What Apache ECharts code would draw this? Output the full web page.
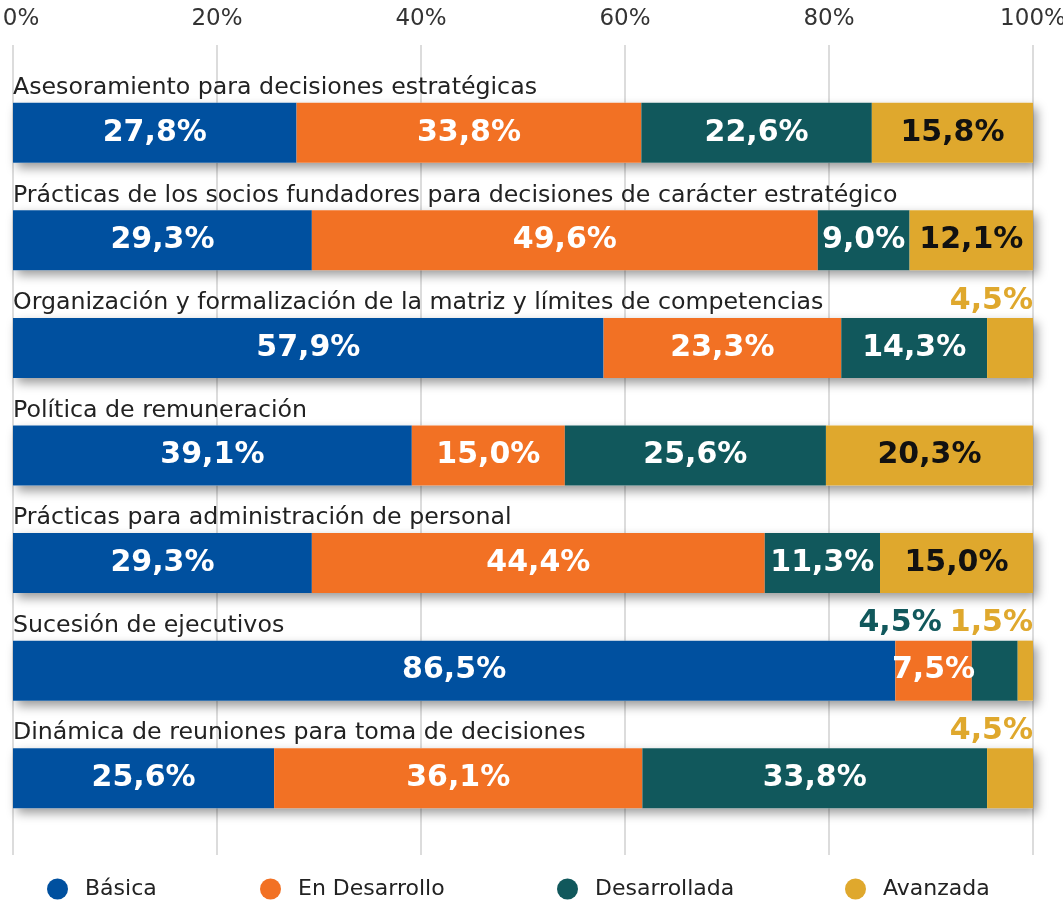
<!DOCTYPE html>
<html>
<head>
<meta charset="utf-8">
<script src="https://cdn.jsdelivr.net/npm/echarts@6/dist/echarts.min.js"></script>
<style>
  html, body { margin: 0; padding: 0; background: #fff; }
  #chart { width: 1063px; height: 905px; }
</style>
</head>
<body>
<div id="chart"></div>
<script>
// datos
var categorias = [
  'Asesoramiento para decisiones estratégicas',
  'Prácticas de los socios fundadores para decisiones de carácter estratégico',
  'Organización y formalización de la matriz y límites de competencias',
  'Política de remuneración',
  'Prácticas para administración de personal',
  'Sucesión de ejecutivos',
  'Dinámica de reuniones para toma de decisiones'
];
var basica = [27.8, 29.3, 57.9, 39.1, 29.3, 86.5, 25.6];
var enDesarrollo = [33.8, 49.6, 23.3, 15.0, 44.4, 7.5, 36.1];
var desarrollada = [22.6, 9.0, 14.3, 25.6, 11.3, 4.5, 33.8];
var avanzada = [15.8, 12.1, 4.5, 20.3, 15.0, 1.5, 4.5];
var total = [100, 100, 100, 100, 100, 100, 100];
var xTicks = [0, 20, 40, 60, 80, 100];

var nombres = ['Básica', 'En Desarrollo', 'Desarrollada', 'Avanzada'];
var colores = ['#00509f', '#f27124', '#11585c', '#dfa82d'];
var colorTextoDentro = ['#fff', '#fff', '#fff', '#111'];
var valores = [basica, enDesarrollo, desarrollada, avanzada];

var fuente = 'DejaVu Sans';
var fmt = function (v) { return v.toFixed(1).replace('.', ',') + '%'; };

function buildSeries(idx) {
  var data = valores[idx].map(function (v, row) {
    var item = { value: v };
    if (v < 5) {
      // etiqueta por encima de la barra
      var sigPequeno = idx < 3 && valores[idx + 1][row] < 5;
      item.label = {
        position: ['100%', -2],
        align: 'right',
        verticalAlign: 'bottom',
        color: colores[idx],
        offset: [sigPequeno ? -76 : 0, 0]
      };
    }
    return item;
  });
  return {
    name: nombres[idx],
    type: 'bar',
    stack: 'total',
    barWidth: 60,
    data: data,
    itemStyle: { color: colores[idx] },
    label: {
      show: true,
      position: 'inside',
      color: colorTextoDentro[idx],
      fontFamily: fuente,
      fontWeight: 'bold',
      fontSize: 30,
      formatter: function (p) { return fmt(p.value); }
    },
    emphasis: { disabled: true }
  };
}

var series = [{
  name: 'fondo',
  type: 'bar',
  barWidth: 60,
  barGap: '-100%',
  data: total,
  silent: true,
  itemStyle: {
    color: '#fff',
    shadowBlur: 10,
    shadowOffsetX: 4,
    shadowOffsetY: 5,
    shadowColor: 'rgba(0,0,0,0.4)'
  },
  label: {
    show: true,
    position: [0, -3],
    align: 'left',
    verticalAlign: 'bottom',
    color: '#222',
    fontFamily: fuente,
    fontSize: 23.7,
    formatter: '{b}'
  }
}];
for (var i = 0; i < 4; i++) series.push(buildSeries(i));

var legends = [47, 260, 557, 845].map(function (x, i) {
  return {
    data: [nombres[i]],
    left: x,
    top: 878,
    padding: 0,
    icon: 'circle',
    itemWidth: 21,
    itemHeight: 21,
    itemGap: 0,
    selectedMode: false,
    textStyle: { fontFamily: fuente, fontSize: 22, color: '#222', padding: [0, 0, 0, 12] }
  };
});

var chart = echarts.init(document.getElementById('chart'));
chart.setOption({
  animation: false,
  legend: legends,
  grid: [
    { left: 13, right: 30, top: 79, bottom: 73, outerBoundsMode: 'none' },
    { left: 13, right: 30, top: 45, bottom: 50, outerBoundsMode: 'none' }
  ],
  xAxis: [
    { gridIndex: 0, type: 'value', min: 0, max: 100, show: false },
    {
      gridIndex: 1, type: 'value', position: 'top', min: xTicks[0], max: xTicks[xTicks.length - 1], interval: 20,
      axisLine: { show: false }, axisTick: { show: false },
      axisLabel: {
        margin: 14, color: '#333', fontFamily: fuente, fontSize: 23,
        formatter: function (v) { return v === 0 ? '{primero|0%}' : v + '%'; },
        rich: { primero: { padding: [0, 0, 0, 16], color: '#333', fontFamily: fuente, fontSize: 23 } }
      },
      splitLine: { lineStyle: { color: '#dcdcdc', width: 2 } }
    }
  ],
  yAxis: [
    { gridIndex: 0, type: 'category', inverse: true, data: categorias, show: false },
    { gridIndex: 1, type: 'category', data: ['x'], show: false }
  ],
  series: series
});
</script>
</body>
</html>
